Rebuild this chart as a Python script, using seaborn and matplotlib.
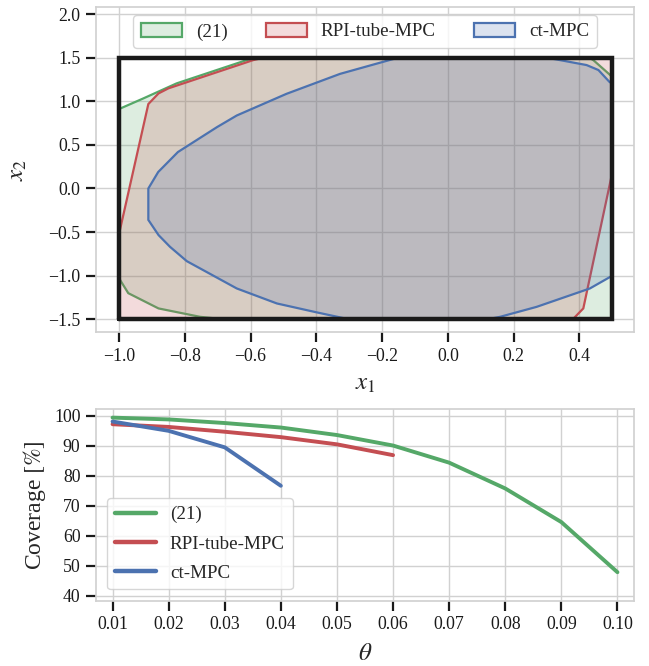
import numpy as np
import pandas as pd
import matplotlib
matplotlib.use("Agg")
import matplotlib.pyplot as plt
import seaborn as sns

# ---- Region data (x1, x2 vertices of each invariant-set polygon) ----
region_names = ["(21)", "RPI-tube-MPC", "ct-MPC"]

x1_eq21 = [-1.0, -0.972, -0.880, -0.754, -0.68, 0.5, 0.5, 0.443, 0.43, -0.58, -0.612, -0.825, -0.926, -1.0]
x2_eq21 = [-1.03, -1.20, -1.375, -1.471, -1.5, -1.5, 1.28, 1.47, 1.5, 1.5, 1.472, 1.205, 1.033, 0.911]

x1_rpi = [-1.0, 0.38, 0.412, 0.5, 0.5, -0.56, -0.592, -0.850, -0.880, -0.911, -1.0]
x2_rpi = [-1.5, -1.5, -1.375, 0.18, 1.5, 1.5, 1.472, 1.148, 1.09, 0.968, -0.52]

x1_ct = [-0.911, -0.911, -0.880, -0.845, -0.794, -0.642, -0.520, -0.399, -0.30, 0.12, 0.159, 0.270,
         0.432, 0.5, 0.5, 0.491, 0.458, 0.422, 0.341, 0.30, -0.15, -0.176, -0.328, -0.491, -0.642,
         -0.702, -0.821, -0.881]
x2_ct = [0.0, -0.36, -0.534, -0.669, -0.833, -1.146, -1.318, -1.42, -1.5, -1.5, -1.471, -1.357,
         -1.146, -1.0, 1.2, 1.224, 1.358, 1.415, 1.472, 1.5, 1.5, 1.474, 1.314, 1.085, 0.837,
         0.704, 0.418, 0.189]

# State constraint box
box_x1 = [-1.0, 0.5, 0.5, -1.0, -1.0]
box_x2 = [-1.5, -1.5, 1.5, 1.5, -1.5]

# ---- Coverage data ----
theta = [0.01, 0.02, 0.03, 0.04, 0.05, 0.06, 0.07, 0.08, 0.09, 0.10]
cov_eq21 = [99.3, 98.7, 97.5, 96.0, 93.5, 90.0, 84.3, 75.7, 64.5, 47.8]
cov_rpi = [97.1, 96.2, 94.6, 92.8, 90.4, 86.8]
cov_ct = [98.0, 94.9, 89.4, 76.6]

sns.set_theme(style="whitegrid", rc={
    "xtick.bottom": True, "ytick.left": True,
    "xtick.major.size": 7.5, "ytick.major.size": 7.5,
    "xtick.major.width": 1.6, "ytick.major.width": 1.6,
    "xtick.color": ".1", "ytick.color": ".1",
    "axes.edgecolor": ".82", "grid.color": ".82",
})
plt.rcParams["font.family"] = ["Liberation Serif", "DejaVu Serif"]
plt.rcParams["mathtext.fontset"] = "stix"
plt.rcParams["axes.unicode_minus"] = True

pal = sns.color_palette("deep")
colors = [pal[2], pal[3], pal[0]]

fig = plt.figure(figsize=(6.49, 6.66), dpi=100)
ax1 = fig.add_axes([0.1475, 0.501, 0.8298, 0.488])
ax2 = fig.add_axes([0.1475, 0.098, 0.8298, 0.288])

# ---- Top: regions ----
for name, xs, ys, c in zip(region_names, [x1_eq21, x1_rpi, x1_ct], [x2_eq21, x2_rpi, x2_ct], colors):
    ax1.fill(xs, ys, facecolor=(*c, 0.2), edgecolor=c, lw=1.6, label=name, zorder=2)
ax1.plot(box_x1, box_x2, color="#1a1a1a", lw=3.2, solid_joinstyle="miter", zorder=4)
ax1.set_xlim(-1.071, 0.567)
ax1.set_ylim(-1.649, 2.077)
ax1.set_xticks(np.arange(-1.0, 0.41, 0.2))
ax1.set_yticks(np.arange(-1.5, 2.01, 0.5))
ax1.set_xlabel(r"$x_1$", fontsize=18, labelpad=6)
ax1.set_ylabel(r"$x_2$", fontsize=18, labelpad=14)
ax1.tick_params(labelsize=12.8)
ax1.legend(loc="upper center", ncol=3, fontsize=13.7, handlelength=2.15, handleheight=0.8,
           handletextpad=0.75, columnspacing=2.0, borderaxespad=0.4, frameon=True)

# ---- Bottom: coverage ----
df = pd.concat([
    pd.DataFrame({"theta": theta[:len(v)], "coverage": v, "method": n})
    for n, v in zip(region_names, [cov_eq21, cov_rpi, cov_ct])
])
sns.lineplot(data=df, x="theta", y="coverage", hue="method", palette=colors, lw=2.8, ax=ax2)
ax2.set_xlim(0.007, 0.103)
ax2.set_ylim(38.3, 102.2)
ax2.set_xticks(theta)
ax2.set_xticklabels([f"{t:.2f}" for t in theta])
ax2.set_yticks(range(40, 101, 10))
ax2.set_xlabel(r"$\theta$", fontsize=18, labelpad=7)
ax2.set_ylabel(r"Coverage $[\%]$", fontsize=17)
ax2.tick_params(labelsize=12.8)
leg = ax2.legend(loc="lower left", fontsize=13.7, handlelength=2.15, handletextpad=0.75,
                 labelspacing=0.62, title=None, borderaxespad=0.6)
for line in leg.get_lines():
    line.set_linewidth(3.2)

fig.savefig("out.png", dpi=100)
